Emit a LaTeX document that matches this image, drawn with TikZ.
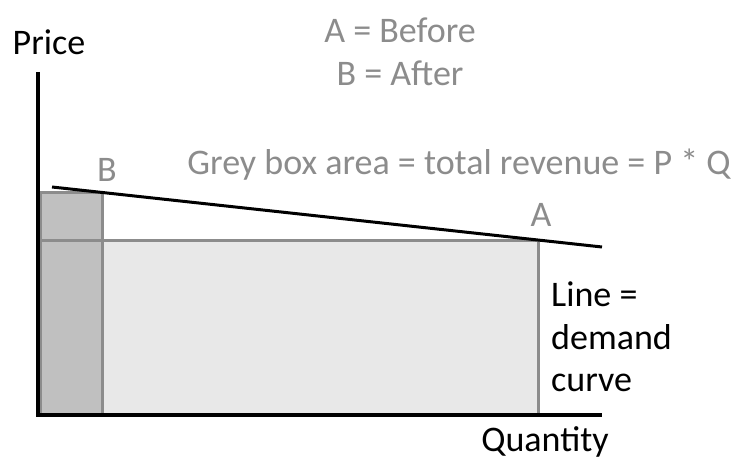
\documentclass[tikz,border=0pt]{standalone}
\usepackage{fontspec}
\setmainfont{Carlito}
\definecolor{gtxt}{HTML}{8C8C8C}
\definecolor{lightbox}{HTML}{E8E8E8}
\definecolor{darkbox}{HTML}{C0C0C0}
\begin{document}
\begin{tikzpicture}[x=1pt,y=-1pt,
  lbl/.style={font=\fontsize{36}{42}\selectfont,inner sep=0pt},
  glbl/.style={lbl,text=gtxt},
  box/.style={draw=gtxt,line width=3pt}]
\useasboundingbox (0,0) rectangle (755,465);
\fill[lightbox] (40,241) rectangle (538,415);
\fill[darkbox] (40,193) rectangle (102,415);
\draw[box] (40,241) rectangle (538,415);
\draw[box] (40,193) rectangle (102,415);
\coordinate (d1) at (52,187); \coordinate (d2) at (602,247);
\draw[line width=3pt] (d1) -- (d2);
\coordinate (o) at (38,415); \coordinate (yt) at (38,72); \coordinate (xr) at (602,415);
\draw[line width=3.5pt] (yt) -- (o) -- (xr);
\node[lbl] (price) at (49,42) {Price};
\node[glbl] (ta) at (400,30) {A = Before};
\node[glbl] (tb) at (400,73) {B = After};
\node[glbl] (tg) at (459,165) {Grey box area = total revenue = P * Q};
\node[glbl] (lb) at (107,170) {B};
\node[glbl] (la) at (541,215) {A};
\node[lbl,anchor=west,align=left,font=\fontsize{36}{42.5}\selectfont] (ld) at (551,337) {Line =\\demand\\curve};
\node[lbl] (q) at (545,442) {Quantity};
\end{tikzpicture}
\end{document}
